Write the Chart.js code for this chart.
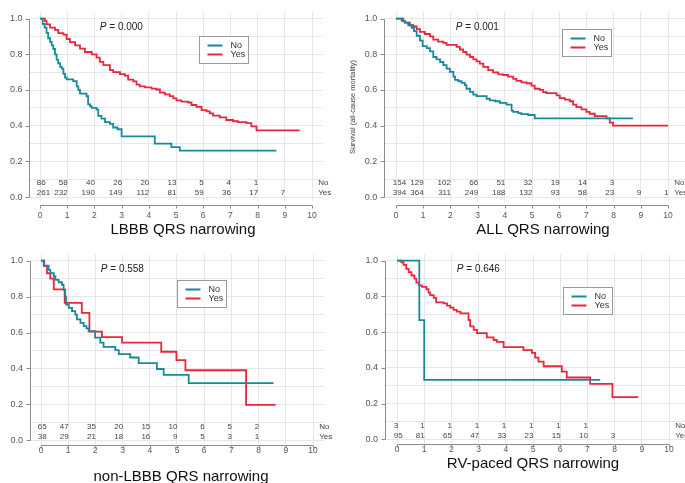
<!DOCTYPE html>
<html>
<head>
<meta charset="utf-8">
<script src="https://cdn.jsdelivr.net/npm/chart.js@4.4.1/dist/chart.umd.min.js"></script>
<style>
  html, body { margin: 0; background: #fff; }
  #wrap { position: relative; width: 685px; height: 483px; overflow: hidden; }
  canvas { position: absolute; }
</style>
</head>
<body>
<div id="wrap">
  <canvas id="c1" width="340" height="242" style="left:0;top:0"></canvas>
  <canvas id="c2" width="345" height="242" style="left:340px;top:0"></canvas>
  <canvas id="c3" width="340" height="241" style="left:0;top:242px"></canvas>
  <canvas id="c4" width="345" height="241" style="left:340px;top:242px"></canvas>
</div>
<script>
// ---- data (years, survival) ----
const lbbbNoT = [0, 0.10, 0.17, 0.24, 0.30, 0.37, 0.43, 0.49, 0.55, 0.61, 0.67, 0.74, 0.80, 0.86, 0.92, 0.98, 1.22, 1.35, 1.41, 1.47, 1.71, 1.77, 1.84, 1.90, 2.08, 2.14, 2.26, 2.39, 2.57, 2.69, 2.85, 3.00, 4.22, 4.83, 5.14, 8.69];
const lbbbNoS = [1, 0.97, 0.95, 0.92, 0.89, 0.87, 0.85, 0.83, 0.80, 0.77, 0.75, 0.73, 0.72, 0.69, 0.67, 0.66, 0.65, 0.62, 0.60, 0.58, 0.565, 0.52, 0.51, 0.50, 0.49, 0.455, 0.44, 0.42, 0.41, 0.39, 0.38, 0.34, 0.30, 0.28, 0.26, 0.26];
const lbbbYesT = [0, 0.18, 0.24, 0.37, 0.55, 0.67, 0.86, 0.98, 1.10, 1.29, 1.47, 1.65, 1.90, 2.08, 2.20, 2.33, 2.57, 2.69, 2.94, 3.12, 3.24, 3.43, 3.55, 3.67, 3.86, 4.10, 4.28, 4.41, 4.59, 4.77, 4.90, 5.02, 5.20, 5.45, 5.57, 5.75, 5.94, 6.12, 6.24, 6.36, 6.61, 6.85, 7.10, 7.28, 7.59, 7.77, 7.96, 9.55];
const lbbbYesS = [1, 0.987, 0.968, 0.95, 0.937, 0.919, 0.91, 0.886, 0.868, 0.85, 0.832, 0.813, 0.80, 0.782, 0.758, 0.74, 0.712, 0.70, 0.689, 0.681, 0.658, 0.648, 0.63, 0.62, 0.615, 0.608, 0.603, 0.585, 0.575, 0.566, 0.553, 0.542, 0.535, 0.53, 0.516, 0.505, 0.487, 0.48, 0.469, 0.456, 0.447, 0.432, 0.425, 0.42, 0.414, 0.396, 0.374, 0.374];

const allNoT = [0, 0.27, 0.33, 0.45, 0.58, 0.66, 0.76, 0.88, 0.98, 1.13, 1.25, 1.37, 1.49, 1.62, 1.74, 1.86, 1.98, 2.11, 2.17, 2.29, 2.41, 2.53, 2.59, 2.72, 2.84, 2.96, 3.33, 3.45, 3.64, 3.82, 4.06, 4.25, 4.31, 4.49, 4.61, 4.86, 5.10, 8.71];
const allNoS = [1, 0.985, 0.978, 0.963, 0.949, 0.93, 0.904, 0.877, 0.846, 0.835, 0.816, 0.785, 0.772, 0.757, 0.739, 0.72, 0.702, 0.675, 0.657, 0.649, 0.64, 0.627, 0.607, 0.59, 0.574, 0.566, 0.551, 0.542, 0.537, 0.528, 0.518, 0.485, 0.478, 0.471, 0.465, 0.46, 0.441, 0.441];
const allYesT = [0, 0.21, 0.33, 0.51, 0.64, 0.76, 0.88, 1.06, 1.25, 1.37, 1.55, 1.74, 1.86, 2.23, 2.35, 2.47, 2.59, 2.72, 2.84, 2.96, 3.08, 3.21, 3.39, 3.57, 3.76, 3.94, 4.12, 4.31, 4.43, 4.61, 4.80, 4.98, 5.10, 5.29, 5.41, 5.53, 5.90, 6.02, 6.21, 6.39, 6.51, 6.63, 6.82, 7.00, 7.12, 7.31, 7.74, 7.86, 7.98, 10.0];
const allYesS = [1, 0.987, 0.978, 0.963, 0.956, 0.941, 0.926, 0.914, 0.901, 0.882, 0.871, 0.864, 0.853, 0.842, 0.827, 0.813, 0.798, 0.785, 0.772, 0.761, 0.748, 0.73, 0.711, 0.699, 0.688, 0.684, 0.675, 0.662, 0.651, 0.643, 0.638, 0.625, 0.607, 0.601, 0.588, 0.583, 0.57, 0.555, 0.546, 0.537, 0.518, 0.504, 0.491, 0.478, 0.467, 0.454, 0.441, 0.417, 0.40, 0.40];

const nonNoT = [0, 0.10, 0.28, 0.34, 0.47, 0.53, 0.65, 0.77, 0.83, 0.89, 0.92, 1.02, 1.14, 1.26, 1.32, 1.45, 1.57, 1.67, 1.75, 1.99, 2.18, 2.30, 2.73, 2.86, 3.28, 3.59, 4.26, 4.51, 5.43, 8.55];
const nonNoS = [1, 0.972, 0.949, 0.93, 0.912, 0.893, 0.88, 0.866, 0.838, 0.80, 0.755, 0.737, 0.719, 0.70, 0.673, 0.654, 0.636, 0.623, 0.608, 0.572, 0.544, 0.52, 0.502, 0.48, 0.461, 0.43, 0.397, 0.364, 0.318, 0.318];
const nonYesT = [0, 0.12, 0.22, 0.34, 0.47, 0.87, 1.50, 1.78, 2.24, 2.98, 4.42, 4.98, 5.31, 7.54, 8.62];
const nonYesS = [1, 0.97, 0.93, 0.90, 0.84, 0.765, 0.71, 0.605, 0.575, 0.544, 0.493, 0.447, 0.39, 0.197, 0.197];

const rvNoT = [0, 0.82, 1.00, 7.47];
const rvNoS = [1, 0.667, 0.333, 0.333];
const rvYesT = [0, 0.16, 0.24, 0.34, 0.43, 0.53, 0.64, 0.71, 0.80, 0.92, 1.08, 1.16, 1.22, 1.35, 1.44, 1.71, 1.84, 1.96, 2.08, 2.20, 2.33, 2.63, 2.69, 2.82, 2.94, 3.30, 3.55, 3.67, 3.92, 4.65, 4.96, 5.08, 5.20, 5.39, 6.06, 6.24, 7.10, 7.92, 8.87];
const rvYesS = [1, 0.991, 0.976, 0.954, 0.936, 0.917, 0.899, 0.877, 0.862, 0.853, 0.84, 0.821, 0.807, 0.792, 0.766, 0.761, 0.748, 0.737, 0.724, 0.715, 0.705, 0.668, 0.632, 0.613, 0.595, 0.571, 0.556, 0.545, 0.516, 0.499, 0.484, 0.457, 0.435, 0.409, 0.379, 0.346, 0.311, 0.236, 0.236];

// number at risk, one value per year starting at 0
const lbbbRiskNo = [86, 58, 40, 26, 20, 13, 5, 4, 1];
const lbbbRiskYes = [261, 232, 190, 149, 112, 81, 59, 36, 17, 7];
const allRiskNo = [154, 129, 102, 66, 51, 32, 19, 14, 3];
const allRiskYes = [394, 364, 311, 249, 188, 132, 93, 58, 23, 9, 1];
const nonRiskNo = [65, 47, 35, 20, 15, 10, 6, 5, 2];
const nonRiskYes = [38, 29, 21, 18, 16, 9, 5, 3, 1];
const rvRiskNo = [3, 1, 1, 1, 1, 1, 1, 1];
const rvRiskYes = [95, 81, 65, 47, 33, 23, 15, 10, 3];

const xTicks = [0, 1, 2, 3, 4, 5, 6, 7, 8, 9, 10];
const yLabelTicks = [0, 0.2, 0.4, 0.6, 0.8, 1.0];
const groupNames = ['No', 'Yes'];

const TEAL = '#17899a';
const RED = '#e8263d';
const FONT = "'Liberation Sans', Arial, sans-serif";

function zip(t, s) {
  const n = Math.min(t.length, s.length);
  const out = [];
  for (let i = 0; i < n; i++) out.push({ x: t[i], y: s[i] });
  return out;
}

const kmDecor = {
  id: 'kmDecor',
  afterDraw(chart, args, o) {
    const { ctx, chartArea: ca } = chart;
    const xs = chart.scales.x, ys = chart.scales.y;
    ctx.save();

    // axis lines (offset Stata style)
    ctx.strokeStyle = '#8c8c8c';
    ctx.lineWidth = 1;
    ctx.beginPath();
    const ax = Math.round(ca.left) + 0.5;
    ctx.moveTo(ax, Math.round(ys.getPixelForValue(1)) + 0.5);
    ctx.lineTo(ax, Math.round(ys.getPixelForValue(0)) + 0.5);
    yLabelTicks.forEach(v => {
      const py = Math.round(ys.getPixelForValue(v)) + 0.5;
      ctx.moveTo(ax - 4, py);
      ctx.lineTo(ax, py);
    });
    const ay = Math.round(ys.getPixelForValue(0) + o.xAxisGap) + 0.5;
    ctx.moveTo(Math.round(xs.getPixelForValue(0)) + 0.5, ay);
    ctx.lineTo(Math.round(xs.getPixelForValue(10)) + 0.5, ay);
    xTicks.forEach(v => {
      const px = Math.round(xs.getPixelForValue(v)) + 0.5;
      ctx.moveTo(px, ay);
      ctx.lineTo(px, ay + 3);
    });
    ctx.stroke();

    // P value
    ctx.fillStyle = '#222';
    ctx.textBaseline = 'middle';
    ctx.textAlign = 'left';
    const px0 = xs.getPixelForValue(2.2), py0 = ys.getPixelForValue(0.952);
    ctx.font = 'italic 10px ' + FONT;
    ctx.fillText('P', px0, py0);
    const pw = ctx.measureText('P').width;
    ctx.font = '10px ' + FONT;
    ctx.fillText(' = ' + o.p, px0 + pw, py0);

    // legend box
    const lx = Math.round(xs.getPixelForValue(o.legend[0])) + 0.5;
    const ly = Math.round(ys.getPixelForValue(o.legend[1])) + 0.5;
    ctx.fillStyle = '#fff';
    ctx.fillRect(lx, ly, 49, 27);
    ctx.strokeStyle = '#9a9a9a';
    ctx.strokeRect(lx, ly, 49, 27);
    ctx.lineWidth = 2;
    [TEAL, RED].forEach((c, i) => {
      const yy = ly + 9 + i * 9;
      ctx.strokeStyle = c;
      ctx.beginPath();
      ctx.moveTo(lx + 8, yy);
      ctx.lineTo(lx + 23, yy);
      ctx.stroke();
      ctx.fillStyle = '#333';
      ctx.font = '9px ' + FONT;
      ctx.fillText(groupNames[i], lx + 31, yy);
    });

    // number at risk
    ctx.font = '8px ' + FONT;
    ctx.fillStyle = '#444';
    [[o.riskNo, 0.078], [o.riskYes, 0.022]].forEach(([arr, yv]) => {
      const py = ys.getPixelForValue(yv);
      arr.forEach((n, i) => {
        if (i === 0) {
          ctx.textAlign = 'left';
          ctx.fillText(String(n), xs.getPixelForValue(-0.12), py);
        } else {
          ctx.textAlign = 'right';
          ctx.fillText(String(n), xs.getPixelForValue(i) + 0.5, py);
        }
      });
    });
    ctx.textAlign = 'left';
    ctx.fillText(groupNames[0], xs.getPixelForValue(10.23), ys.getPixelForValue(0.078));
    ctx.fillText(groupNames[1], xs.getPixelForValue(10.23), ys.getPixelForValue(0.022));

    // panel title
    ctx.font = '15px ' + FONT;
    ctx.fillStyle = '#111';
    ctx.textAlign = 'center';
    ctx.fillText(o.title, o.titleAt[0], o.titleAt[1]);

    // y axis title
    if (o.yTitle) {
      ctx.save();
      ctx.translate(o.yTitleAt[0], o.yTitleAt[1]);
      ctx.rotate(-Math.PI / 2);
      ctx.font = '7.5px ' + FONT;
      ctx.fillStyle = '#444';
      ctx.fillText(o.yTitle, 0, 0);
      ctx.restore();
    }
    ctx.restore();
  }
};

function kmChart(id, g, d) {
  const unitX = 27.2;
  const cv = document.getElementById(id);
  const W = cv.width, H = cv.height;
  const yUnit = g.y0 - g.y1;
  const top = g.y1 - 0.035 * yUnit;
  const bottom = g.y0 + 0.022 * yUnit;
  return new Chart(cv, {
    type: 'line',
    data: {
      datasets: [
        { label: 'No', data: zip(d.noT, d.noS), borderColor: TEAL },
        { label: 'Yes', data: zip(d.yesT, d.yesS), borderColor: RED }
      ]
    },
    options: {
      responsive: false,
      animation: false,
      devicePixelRatio: 1,
      layout: { padding: { left: 0, right: W - g.right, top: top, bottom: 0 } },
      elements: {
        line: { stepped: 'before', borderWidth: 1.8, fill: false, tension: 0 },
        point: { radius: 0, hoverRadius: 0 }
      },
      scales: {
        x: {
          type: 'linear',
          min: (g.left - g.x0) / unitX,
          max: (g.right - g.x0) / unitX,
          border: { display: false },
          grid: { color: '#e7e7e7', drawTicks: false },
          afterFit: s => { s.height = H - bottom; },
          afterBuildTicks: s => { s.ticks = xTicks.map(v => ({ value: v })); },
          ticks: {
            autoSkip: false, maxRotation: 0, padding: g.xLabelPad,
            color: '#555', font: { family: FONT, size: 8.5 },
            callback: v => String(v)
          }
        },
        y: {
          type: 'linear',
          min: -0.022,
          max: 1.035,
          border: { display: false },
          grid: { color: '#e7e7e7', drawTicks: false },
          afterFit: s => { s.width = g.left; },
          afterBuildTicks: s => {
            const t = [];
            for (let i = 0; i <= 10; i++) t.push({ value: i / 10 });
            s.ticks = t;
          },
          ticks: {
            padding: 7, color: '#555', font: { family: FONT, size: 9 },
            callback: v => (Math.round(v * 10) % 2 === 0 ? Number(v).toFixed(1) : '')
          }
        }
      },
      plugins: {
        legend: { display: false },
        tooltip: { enabled: false },
        kmDecor: d.decor
      }
    },
    plugins: [kmDecor]
  });
}

kmChart('c1', { left: 29.4, x0: 40, right: 322.9, y1: 15.7, y0: 197, xLabelPad: 10 }, {
  noT: lbbbNoT, noS: lbbbNoS, yesT: lbbbYesT, yesS: lbbbYesS,
  decor: { p: '0.000', legend: [5.85, 0.905], riskNo: lbbbRiskNo, riskYes: lbbbRiskYes,
           title: 'LBBB QRS narrowing', titleAt: [183, 230], xAxisGap: 8 }
});
kmChart('c2', { left: 44.3, x0: 56, right: 345, y1: 15.7, y0: 197, xLabelPad: 10 }, {
  noT: allNoT, noS: allNoS, yesT: allYesT, yesS: allYesS,
  decor: { p: '0.001', legend: [6.09, 0.94], riskNo: allRiskNo, riskYes: allRiskYes,
           title: 'ALL QRS narrowing', titleAt: [203, 230], xAxisGap: 8,
           yTitle: 'Survival (all-cause mortality)', yTitleAt: [13, 107] }
});
kmChart('c3', { left: 30, x0: 41, right: 323.9, y1: 17, y0: 198.3, xLabelPad: 1.5 }, {
  noT: nonNoT, noS: nonNoS, yesT: nonYesT, yesS: nonYesS,
  decor: { p: '0.558', legend: [4.99, 0.894], riskNo: nonRiskNo, riskYes: nonRiskYes,
           title: 'non-LBBB QRS narrowing', titleAt: [181, 235], xAxisGap: 4.5 }
});
kmChart('c4', { left: 45, x0: 57, right: 345, y1: 16.3, y0: 197.3, xLabelPad: 1.5 }, {
  noT: rvNoT, noS: rvNoS, yesT: rvYesT, yesS: rvYesS,
  decor: { p: '0.646', legend: [6.09, 0.851], riskNo: rvRiskNo, riskYes: rvRiskYes,
           title: 'RV-paced QRS narrowing', titleAt: [193, 222], xAxisGap: 4.5 }
});
</script>
</body>
</html>
